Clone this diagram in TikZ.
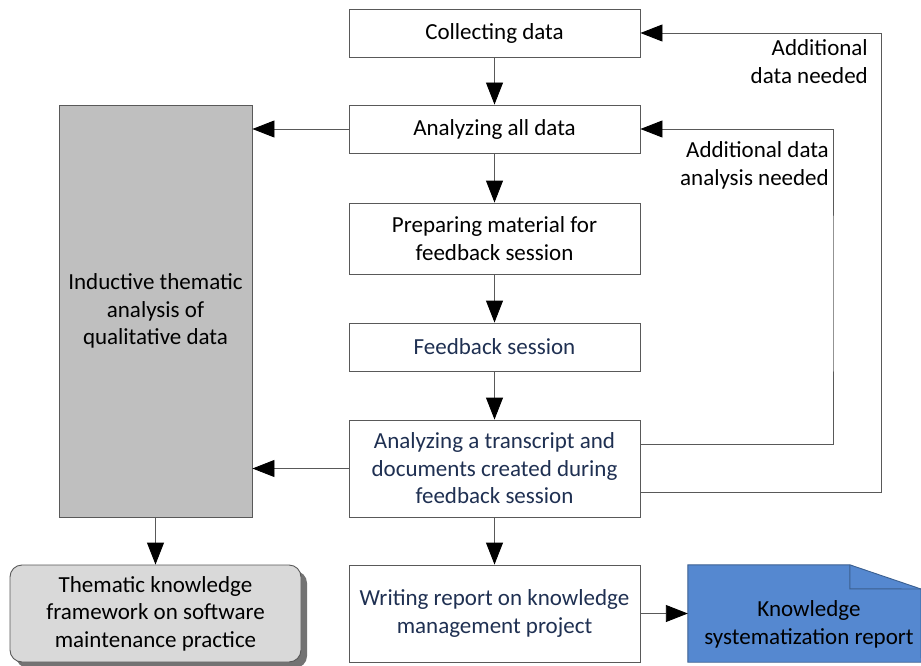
\documentclass[tikz,border=0pt]{standalone}
\usepackage{fontspec}
\setmainfont{Carlito}
\usetikzlibrary{arrows.meta,shadows}
\definecolor{linegray}{HTML}{595959}
\definecolor{navytext}{HTML}{1F3052}
\definecolor{boxgray}{HTML}{BFBFBF}
\definecolor{lightbox}{HTML}{D9D9D9}
\definecolor{docblue}{HTML}{5588D0}
\definecolor{docedge}{HTML}{3B5F8F}
\tikzset{
  txt/.style={font=\fontsize{23}{27.5}\selectfont, align=center},
  stepbox/.style={txt, draw=linegray, line width=0.9pt, fill=white,
    minimum width=291pt, inner sep=0pt},
  arr/.style={draw=linegray, line width=0.9pt,
    -{Triangle[length=22pt,width=17pt,color=black,fill=black]}},
}
\begin{document}
\begin{tikzpicture}[x=1pt,y=-1pt]
\useasboundingbox (0,0) rectangle (921,666);

% main process column
\node[stepbox, minimum height=48pt] (collect) at (494.5,33) {Collecting data};
\node[stepbox, minimum height=48pt] (anal) at (494.5,129) {Analyzing all data};
\node[stepbox, minimum height=71pt] (prep) at (494.5,238.5) {Preparing material for\\feedback session};
\node[stepbox, minimum height=48pt, text=navytext] (feed) at (494.5,347) {Feedback session};
\node[stepbox, minimum height=97pt, text=navytext] (trans) at (494.5,468.5) {Analyzing a transcript and\\documents created during\\feedback session};
\node[stepbox, minimum height=97pt, text=navytext] (write) at (494.5,613.5) {Writing report on knowledge\\management project};

% thematic analysis column
\node[txt, draw=linegray, line width=0.9pt, fill=boxgray, minimum width=193pt,
  minimum height=412pt, inner sep=0pt] (induct) at (155.5,311) {Inductive thematic\\analysis of\\qualitative data};
\node[txt, draw=linegray, line width=0.9pt, fill=lightbox, rounded corners=12pt,
  minimum width=291pt, minimum height=97pt, inner sep=0pt,
  drop shadow={shadow xshift=6pt, shadow yshift=-6pt, fill=black!55, opacity=1}]
  (frame) at (155.5,613.5) {Thematic knowledge\\framework on software\\maintenance practice};

% report document with folded corner
\node[minimum width=233pt, minimum height=97pt, inner sep=0pt] (doc) at (804.5,613.5) {};
\draw[fill=docblue, draw=docedge, line width=0.9pt]
  (doc.south west) -- (doc.north west) -- ++(162,0) -- (921,589) -- (doc.south east) -- cycle;
\draw[draw=docedge, line width=0.9pt] ([xshift=162pt]doc.north west) -- ++(0,24) -- (921,589);
\node[txt] (doctext) at (809,624.5) {Knowledge\\systematization report};

% forward flow
\draw[arr] (collect) -- (anal);
\draw[arr] (anal) -- (prep);
\draw[arr] (prep) -- (feed);
\draw[arr] (feed) -- (trans);
\draw[arr] (trans) -- (write);
\draw[arr] (write) -- (doc);
\draw[arr] (anal.west) -- (induct.east |- anal.west);
\draw[arr] (trans.west) -- (induct.east |- trans.west);
\draw[arr] (induct.south) -- (frame.north);

% feedback loops
\coordinate (loopA) at (833,300);
\coordinate (loopB) at (881,300);
\draw[arr] ([yshift=24pt]trans.east) -| (loopA) |- (anal.east);
\draw[arr] ([yshift=-24pt]trans.east) -| (loopB) |- (collect.east);
\node[txt, align=right, anchor=east, inner sep=0pt] (lblA) at (829,165.5) {Additional data\\analysis needed};
\node[txt, align=right, anchor=east, inner sep=0pt] (lblB) at (868,61.5) {Additional\\data needed};
\end{tikzpicture}
\end{document}
